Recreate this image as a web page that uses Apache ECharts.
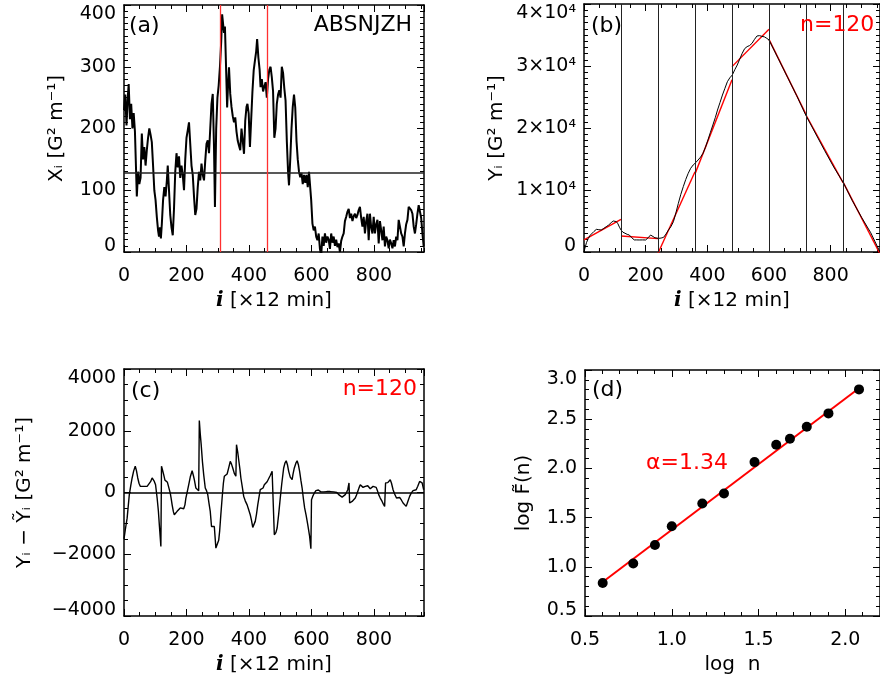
<!DOCTYPE html>
<html><head><meta charset="utf-8">
<script src="https://cdn.jsdelivr.net/npm/echarts@6/dist/echarts.min.js"></script>
<style>html,body{margin:0;padding:0;background:#fff}#c{width:880px;height:684px}</style>
</head><body><div id="c"></div>
<script>
// ---------- DATA ----------
// (a) X_i series [i, value]
const seriesX = [[0,230],[4,255],[8,205],[12,250],[15,272],[19,215],[23,240],[27,200],[31,225],[35,195],[38,143],[41,90],[45,130],[49,110],[53,120],[57,192],[61,150],[65,170],[69,140],[73,165],[77,185],[81,200],[85,190],[89,178],[93,140],[97,100],[101,84],[105,57],[109,35],[112,25],[115,40],[118,22],[121,45],[125,84],[129,105],[133,90],[137,115],[140,140],[144,100],[148,60],[152,40],[156,27],[160,70],[164,130],[168,160],[172,137],[176,155],[180,120],[184,140],[188,125],[192,100],[196,150],[200,185],[204,197],[208,210],[212,175],[216,140],[220,125],[224,90],[228,60],[232,70],[236,105],[240,130],[244,116],[248,143],[252,125],[256,116],[260,148],[264,175],[268,181],[272,160],[276,200],[280,240],[284,256],[288,170],[291,73],[295,200],[299,250],[303,270],[307,300],[311,340],[314,385],[317,385],[320,355],[323,365],[326,310],[330,234],[333,270],[336,299],[340,256],[344,235],[348,220],[352,210],[356,218],[360,195],[364,180],[368,172],[372,165],[376,200],[380,180],[384,159],[388,213],[392,235],[395,240],[399,224],[403,170],[407,215],[411,260],[415,294],[419,310],[423,325],[426,345],[430,315],[434,295],[437,267],[441,280],[445,260],[449,268],[453,275],[457,250],[461,280],[465,295],[469,300],[473,283],[477,260],[481,185],[485,200],[489,240],[493,255],[497,262],[501,250],[505,300],[509,290],[513,265],[517,245],[521,180],[525,130],[528,108],[532,150],[536,200],[540,235],[544,255],[548,234],[552,180],[556,150],[560,130],[564,121],[568,128],[572,110],[576,125],[580,112],[584,125],[588,105],[592,130],[595,127],[599,84],[603,46],[607,35],[611,41],[615,25],[619,19],[623,30],[627,5],[631,-5],[635,25],[639,10],[643,30],[647,15],[651,25],[655,20],[659,5],[663,30],[667,15],[671,25],[675,10],[679,20],[683,8],[687,14],[691,0],[695,18],[699,25],[703,30],[707,50],[711,57],[715,65],[719,70],[723,55],[727,62],[731,50],[735,58],[739,62],[743,55],[747,60],[751,68],[755,73],[759,55],[763,41],[767,57],[771,30],[775,50],[779,62],[783,19],[787,62],[791,40],[795,30],[799,57],[803,30],[807,45],[811,52],[815,14],[819,50],[823,35],[827,19],[831,41],[835,9],[839,25],[843,19],[847,6],[851,20],[855,14],[859,6],[863,19],[867,9],[871,25],[875,19],[879,52],[883,41],[887,30],[891,25],[895,9],[899,30],[903,45],[907,52],[911,73],[915,76],[919,68],[923,62],[927,41],[931,30],[935,45],[939,62],[943,76],[947,73],[951,55],[955,30],[959,9]];
const meanX = 128;
const redLinesA = [307, 457];

// (b) profile Y_i [i, value]
const seriesY = [[0,0],[3,600],[8,1500],[14,2200],[20,2700],[25,3000],[32,3300],[40,3650],[48,3600],[56,3550],[64,3800],[72,4080],[80,4350],[88,4730],[95,5000],[100,5050],[105,4900],[110,4550],[115,4000],[120,3550],[126,3200],[131,3000],[140,2850],[147,2740],[155,2300],[163,1950],[171,1950],[179,1940],[190,1950],[200,1940],[208,2300],[216,2740],[222,2500],[230,2300],[242,2200],[250,2250],[258,2360],[266,2900],[274,3550],[282,4100],[290,4890],[298,6300],[306,7850],[314,9300],[322,10540],[330,11700],[338,12690],[346,13500],[354,14030],[362,14400],[370,14840],[378,15300],[386,15920],[394,16900],[402,18070],[410,19300],[418,20490],[426,21700],[433,22900],[441,24100],[449,25320],[457,26400],[465,27470],[473,28100],[481,28550],[489,29400],[497,30160],[505,31100],[513,32040],[521,32800],[529,33120],[537,33300],[545,33660],[553,34300],[561,34840],[569,34900],[577,34780],[585,34700],[593,34460],[600,34200],[630,31200],[660,28200],[690,25200],[720,22000],[750,19200],[780,16400],[810,13700],[842,11100],[870,8300],[900,5600],[930,3100],[960,0]];
// (b) local linear fits, one [start, end] pair per window of n=120
const fitSegments = [
  [[0,1940],[120,5270]],
  [[120,2580],[240,2150]],
  [[240,-200],[360,12950]],
  [[360,12600],[480,27800]],
  [[480,29900],[600,35920]],
  [[600,34300],[720,22200]],
  [[720,22100],[840,11200]],
  [[840,11300],[960,-300]]
];
const windowEdges = [120, 240, 360, 480, 600, 720, 840];

// (c) residuals Y_i - Ytilde_i [i, value]
const seriesR = [[0,-1500],[5,-1150],[10,-830],[17,-70],[22,250],[26,470],[31,700],[36,850],[40,700],[44,470],[48,300],[52,200],[57,250],[62,200],[68,170],[74,200],[79,250],[85,350],[90,470],[94,420],[97,360],[101,250],[106,-180],[110,-600],[113,-1040],[118,-1750],[120,850],[124,700],[127,580],[131,400],[134,360],[139,330],[143,310],[148,-20],[151,-200],[154,-400],[158,-620],[161,-720],[165,-680],[170,-610],[175,-560],[180,-500],[186,-540],[191,-525],[195,-400],[198,-180],[203,50],[207,250],[212,500],[218,706],[222,550],[225,414],[230,145],[234,100],[239,60],[241,2330],[244,1900],[247,1550],[251,1000],[255,580],[260,145],[264,60],[268,-70],[272,-350],[276,-610],[280,-1100],[285,-1100],[289,-1100],[294,-1800],[300,-1745],[303,-1550],[306,-1260],[310,-700],[314,-180],[318,300],[321,525],[326,560],[330,600],[335,800],[340,1010],[344,920],[348,795],[353,620],[358,525],[360,1550],[364,1300],[367,1060],[371,750],[374,470],[379,150],[383,-125],[388,-270],[394,-400],[399,-560],[404,-720],[408,-900],[412,-1130],[416,-1080],[420,-935],[424,-700],[428,-400],[432,-150],[436,90],[440,100],[445,145],[449,250],[452,310],[458,350],[463,414],[468,550],[474,685],[479,630],[481,-1370],[486,-1300],[490,-1150],[495,-700],[500,-180],[505,300],[511,795],[515,950],[519,1030],[523,900],[527,685],[532,500],[538,414],[541,600],[545,795],[550,950],[554,1030],[558,900],[562,685],[566,400],[570,145],[574,-200],[578,-500],[583,-750],[588,-1040],[594,-1420],[598,-1820],[600,-234],[605,-100],[609,-17],[614,60],[618,90],[622,80],[626,60],[630,20],[634,-17],[639,20],[644,60],[649,30],[655,5],[660,30],[666,-17],[671,20],[676,60],[681,0],[687,-70],[692,-110],[698,-150],[703,-120],[708,-70],[712,0],[716,90],[720,310],[722,-340],[726,-310],[730,-290],[735,-230],[740,-180],[744,-80],[748,35],[752,150],[756,250],[760,200],[765,166],[769,120],[772,200],[776,250],[780,220],[784,160],[788,120],[792,180],[797,198],[802,180],[807,166],[811,60],[815,-70],[820,-180],[826,-290],[830,-380],[834,-450],[837,310],[840,330],[844,320],[848,380],[852,414],[856,300],[861,90],[866,-50],[872,-180],[877,-170],[882,-160],[888,-250],[893,-340],[898,-400],[903,-450],[908,-300],[914,-125],[919,-20],[925,60],[930,80],[935,90],[940,200],[946,360],[950,380],[954,310],[959,90]];

// (d) fluctuation function
const logN = [0.602, 0.778, 0.903, 1.0, 1.176, 1.301, 1.477, 1.602, 1.681, 1.778, 1.903, 2.079];
const logF = [0.836, 1.033, 1.222, 1.412, 1.643, 1.745, 2.064, 2.240, 2.301, 2.423, 2.559, 2.803];
const fitLineD = [[0.602, 0.845], [2.079, 2.815]];
const alphaText = 'α=1.34';

// ---------- STYLE / LAYOUT ----------
const FONT = 'DejaVu Sans';
const LBL = 19;
const grids = [
  {left:124, top:5, width:300, height:247},
  {left:584, top:4, width:301, height:248},
  {left:124, top:369, width:300, height:247},
  {left:585, top:370, width:299, height:246}
];
const xNameRich = {it:{fontFamily:'DejaVu Serif', fontStyle:'italic', fontWeight:'bold', fontSize:20, color:'#000'}};
const xCfg = [
  {min:0, max:960, major:200, minor:50, name:'{it|i} [×12 min]', gap:39, fmt:v=>String(v)},
  {min:0, max:960, major:200, minor:50, name:'{it|i} [×12 min]', gap:39, fmt:v=>String(v)},
  {min:0, max:960, major:200, minor:50, name:'{it|i} [×12 min]', gap:39, fmt:v=>String(v)},
  {min:0.5, max:2.2, major:0.5, minor:0.1, name:'log  n', gap:39, fmt:v=>v.toFixed(1)}
];
const yCfg = [
  {min:0, max:400, major:100, split:10, name:'Xᵢ [G² m⁻¹]', gap:57, fmt:v=>String(v)},
  {min:0, max:40000, major:10000, split:10, name:'Yᵢ [G² m⁻¹]', gap:77, fmt:v=> v===0?'0':(v/10000)+'×10⁴'},
  {min:-4000, max:4000, major:2000, split:4, name:'Yᵢ − Ỹᵢ [G² m⁻¹]', gap:89, fmt:v=>String(v).replace('-','−')},
  {min:0.5, max:3.0, major:0.5, split:5, name:'log F̃(n)', gap:51, fmt:v=>v.toFixed(1)}
];

const xAxis = [], yAxis = [];
const lineBox = {color:'#000', width:1.5};
const tickStyle = {color:'#000', width:1};
xCfg.forEach((c, g) => {
  const common = {type:'value', gridIndex:g, min:c.min, max:c.max, splitLine:{show:false}};
  xAxis.push(Object.assign({}, common, {position:'bottom', interval:c.major,
    axisLine:{show:true, onZero:false, lineStyle:lineBox},
    axisTick:{show:true, inside:true, length:7, lineStyle:tickStyle},
    axisLabel:{show:true, margin:15, fontSize:LBL, fontFamily:FONT, color:'#000', showMaxLabel:false, formatter:c.fmt},
    name:c.name, nameLocation:'middle', nameGap:c.gap,
    nameTextStyle:{fontSize:20, fontFamily:FONT, color:'#000', rich:xNameRich}}));
  xAxis.push(Object.assign({}, common, {position:'bottom', interval:c.minor,
    axisLine:{show:false, onZero:false}, axisTick:{show:true, inside:true, length:4, lineStyle:tickStyle}, axisLabel:{show:false}}));
  xAxis.push(Object.assign({}, common, {position:'top', interval:c.major,
    axisLine:{show:true, onZero:false, lineStyle:lineBox}, axisTick:{show:true, inside:true, length:7, lineStyle:tickStyle}, axisLabel:{show:false}}));
  xAxis.push(Object.assign({}, common, {position:'top', interval:c.minor,
    axisLine:{show:false, onZero:false}, axisTick:{show:true, inside:true, length:4, lineStyle:tickStyle}, axisLabel:{show:false}}));
});
yCfg.forEach((c, g) => {
  const common = {type:'value', gridIndex:g, min:c.min, max:c.max, interval:c.major, splitLine:{show:false},
    axisLine:{show:true, onZero:false, lineStyle:lineBox},
    axisTick:{show:true, inside:true, length:7, lineStyle:tickStyle},
    minorTick:{show:true, splitNumber:c.split, length:4, lineStyle:tickStyle}};
  const richBase = {fontSize:LBL, fontFamily:FONT, color:'#000'};
  yAxis.push(Object.assign({}, common, {position:'left',
    axisLabel:{show:true, margin:8, fontSize:LBL, fontFamily:FONT, color:'#000',
      formatter:v => { const s = c.fmt(v); if (Math.abs(v-c.max)<1e-9) return '{t|'+s+'}'; if (Math.abs(v-c.min)<1e-9) return '{b|'+s+'}'; return s; },
      rich:{t:Object.assign({padding:[18,0,0,0]}, richBase), b:Object.assign({padding:[0,0,12,0]}, richBase)}},
    name:c.name, nameLocation:'middle', nameGap:c.gap,
    nameTextStyle:{fontSize:20, fontFamily:FONT, color:'#000'}}));
  yAxis.push(Object.assign({}, common, {position:'right', axisLabel:{show:false}}));
});

const series = [];
// (a)
series.push({type:'line', xAxisIndex:0, yAxisIndex:0, data:seriesX, showSymbol:false, lineStyle:{color:'#000', width:2}, clip:true,
  markLine:{silent:true, symbol:'none', label:{show:false}, animation:false,
    data:[{yAxis:meanX, lineStyle:{color:'#222', width:1.5, type:'solid'}}].concat(
      redLinesA.map(v => ({xAxis:v, lineStyle:{color:'#ff3030', width:1.3, type:'solid'}})))}});
// (b)
fitSegments.forEach((seg) => {
  series.push({type:'line', xAxisIndex:4, yAxisIndex:2, data:seg, showSymbol:false, clip:true, lineStyle:{color:'#ff0000', width:1.4}});
});
series.push({type:'line', xAxisIndex:4, yAxisIndex:2, data:seriesY, showSymbol:false, clip:true, lineStyle:{color:'#000', width:1},
  markLine:{silent:true, symbol:'none', label:{show:false}, animation:false,
    data:windowEdges.map(v => ({xAxis:v, lineStyle:{color:'#222', width:1, type:'solid'}}))}});
// (c)
series.push({type:'line', xAxisIndex:8, yAxisIndex:4, data:seriesR, showSymbol:false, clip:true, lineStyle:{color:'#000', width:1.4},
  markLine:{silent:true, symbol:'none', label:{show:false}, animation:false,
    data:[{yAxis:0, lineStyle:{color:'#000', width:1.5, type:'solid'}}]}});
// (d)
series.push({type:'line', xAxisIndex:12, yAxisIndex:6, data:fitLineD, showSymbol:false, lineStyle:{color:'#ff0000', width:2}});
series.push({type:'scatter', xAxisIndex:12, yAxisIndex:6, data:logN.map((x,k)=>[x, logF[k]]), symbolSize:10, z:5, itemStyle:{color:'#000', opacity:1}});

function txt(x, y, s, color, align) {
  return {type:'text', x:x, y:y, silent:true, z:100,
    style:{text:s, fill:color||'#000', fontSize:22, fontFamily:FONT, align:align||'left', verticalAlign:'middle'}};
}
const graphic = [
  txt(129, 26, '(a)'), txt(412, 25, 'ABSNJZH', '#000', 'right'),
  txt(591, 26, '(b)'), txt(800, 25, 'n=120', '#ff0000'),
  txt(131, 391, '(c)'), txt(417, 389, 'n=120', '#ff0000', 'right'),
  txt(592, 390, '(d)'), txt(646, 463, alphaText, '#ff0000')
];

const chart = echarts.init(document.getElementById('c'), null, {renderer:'canvas'});
chart.setOption({animation:false, backgroundColor:'#fff', grid:grids, xAxis:xAxis, yAxis:yAxis, series:series, graphic:graphic});
</script>
</body></html>
